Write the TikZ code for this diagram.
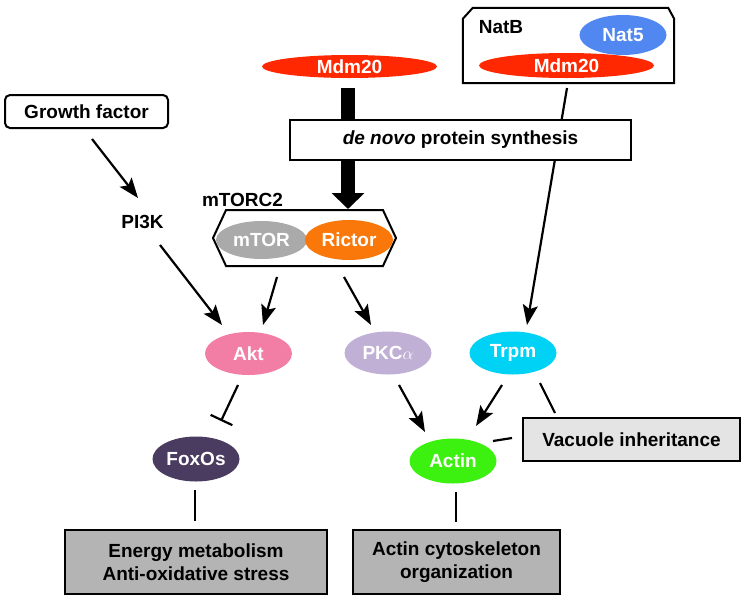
\documentclass[tikz,border=0pt]{standalone}
\usepackage{fontspec}
\setmainfont{Liberation Sans}
\usetikzlibrary{arrows.meta,shapes.geometric,shapes.misc,shapes.symbols,calc}
\definecolor{mdmred}{RGB}{255,40,0}
\definecolor{natblue}{RGB}{80,135,240}
\definecolor{mtorgray}{RGB}{170,170,170}
\definecolor{rictororange}{RGB}{250,120,10}
\definecolor{aktpink}{RGB}{242,125,165}
\definecolor{pkclav}{RGB}{192,176,213}
\definecolor{trpmcyan}{RGB}{0,210,245}
\definecolor{actingreen}{RGB}{60,240,15}
\definecolor{foxpurple}{RGB}{74,59,96}
\definecolor{boxgray}{RGB}{180,180,180}
\definecolor{lightgray}{RGB}{228,228,228}
\begin{document}
\begin{tikzpicture}[x=1pt,y=-1pt,
  font=\fontsize{19}{23}\selectfont\bfseries,
  ell/.style={ellipse, inner sep=0pt, text=white},
  boxed/.style={draw, line width=2pt, inner sep=0pt, align=center},
  arr/.style={line width=2.2pt, -{Stealth[length=20pt,width=15pt,inset=4pt]}},
  ln/.style={line width=2.2pt},
  inh/.style={line width=2.2pt, -{Bar[width=24pt,line width=2.2pt]}}]
\useasboundingbox (0,0) rectangle (750,603);

% NatB complex (box with chamfered top corners)
\node[inner sep=0pt, minimum width=211pt, minimum height=75pt] (natb) at (568.5,45.5) {};
\draw[line width=2pt, line join=miter] (natb.south west) -- ($(natb.north west)+(0,11)$)
  -- ($(natb.north west)+(10,0)$) -- ($(natb.north east)+(-6,0)$)
  -- ($(natb.north east)+(0,11)$) -- (natb.south east) -- cycle;
\node (natblabel) at (501,27) {NatB};
\node[ell, fill=natblue, minimum width=87pt, minimum height=40pt] (nat5) at (623,35) {Nat5};
\node[ell, fill=mdmred, minimum width=175pt, minimum height=25pt] (mdmR) at (566.5,65.5) {Mdm20};

% left Mdm20
\node[ell, fill=mdmred, minimum width=175pt, minimum height=23pt] (mdmL) at (349.5,66.5) {Mdm20};

% Growth factor / PI3K
\node[boxed, rounded corners=5pt, minimum width=163pt, minimum height=33pt] (growth) at (86.5,111.5) {Growth factor};
\node (pi3k) at (142.5,222) {PI3K};

% mTORC2 complex
\node (mtorc2) at (242.5,200) {mTORC2};
\node[boxed, fill=white, signal, signal to=east and west, signal pointer angle=130,
  minimum width=183pt, minimum height=56pt] (hex) at (304.5,238) {};
\node[ell, fill=mtorgray, minimum width=91pt, minimum height=38pt] (mtor) at (261.5,240) {mTOR};
\node[ell, fill=rictororange, minimum width=88pt, minimum height=40pt] (rictor) at (349,240) {Rictor};

% middle row
\node[ell, fill=aktpink, minimum width=87pt, minimum height=43pt] (akt) at (248.5,353.5) {Akt};
\node[ell, fill=pkclav, minimum width=87pt, minimum height=43pt] (pkc) at (388,353) {PKC$\alpha$};
\node[ell, fill=trpmcyan, minimum width=87pt, minimum height=43pt] (trpm) at (513,353) {Trpm};

\node[ell, fill=foxpurple, minimum width=87pt, minimum height=45pt] (foxos) at (196,459) {FoxOs};
\node[ell, fill=actingreen, minimum width=87pt, minimum height=45pt] (actin) at (453,461) {Actin};

\node[boxed, fill=lightgray, minimum width=217pt, minimum height=43pt] (vacuole) at (631.5,439.5) {Vacuole inheritance};
\node[boxed, fill=boxgray, minimum width=262pt, minimum height=64pt] (energy) at (196,562) {Energy metabolism\\Anti-oxidative stress};
\node[boxed, fill=boxgray, minimum width=207pt, minimum height=64pt] (actcyto) at (456.5,562) {Actin cytoskeleton\\organization};

% connectors behind the de novo box
\draw[line width=14pt, -{Triangle[length=16pt,width=32pt]}]
  ($(mdmL)+(-1.5,21.5)$) -- ($(hex)+(43.5,-29)$);
\draw[arr] ($(mdmR)+(0.5,22.5)$) -- ($(trpm)+(14,-28)$);

% de novo box
\node[boxed, fill=white, minimum width=341pt, minimum height=40pt] (denovo) at (460.5,140)
  {\textit{de novo} protein synthesis};

% other connectors
\draw[arr] ($(growth.south)+(5.5,10)$) -- ($(pi3k)+(-4.5,-24)$);
\draw[arr] ($(pi3k)+(17.5,23)$) -- ($(akt)+(-26.5,-28.5)$);
\draw[arr] ($(hex)+(-27.5,39)$) -- ($(akt)+(14.5,-28.5)$);
\draw[arr] ($(hex)+(39.5,39)$) -- ($(pkc)+(-17,-28)$);
\draw[inh] ($(akt)+(-10.5,31.5)$) -- ($(foxos)+(25,-38)$);
\draw[arr] ($(pkc)+(11,32)$) -- ($(actin)+(-28,-29)$);
\draw[arr] ($(trpm)+(-11,32)$) -- ($(actin)+(23,-35)$);
\draw[ln] ($(trpm)+(27,30)$) -- ($(vacuole)+(-76.5,-26.5)$);
\draw[ln] ($(actin)+(40,-20)$) -- ($(vacuole)+(-119.5,-1.5)$);
\draw[ln] ($(foxos)+(-1,31)$) -- ($(energy.north)+(-1,-8)$);
\draw[ln] ($(actin)+(3,31)$) -- ($(actcyto.north)+(-0.5,-7)$);
\end{tikzpicture}
\end{document}
